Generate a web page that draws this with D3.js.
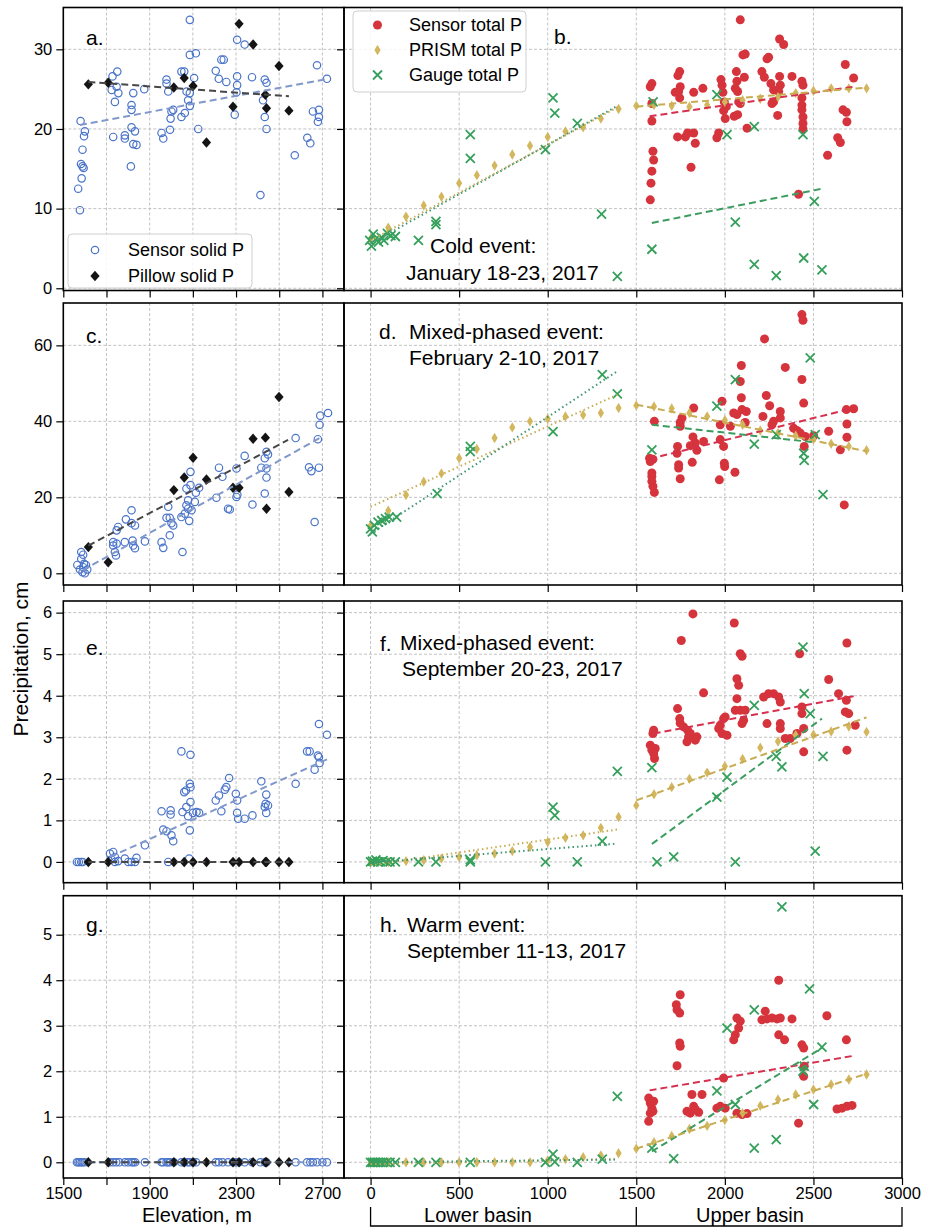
<!DOCTYPE html>
<html>
<head>
<meta charset="utf-8">
<script src="https://cdn.jsdelivr.net/npm/d3@7"></script>
<style>
  body { margin: 0; background: #fff; }
  svg { display: block; }
</style>
</head>
<body>
<svg id="chart" width="929" height="1228"></svg>
<script>
// ---------- axis limits and ticks ----------
const elevLimits = [1500, 2800];
const basinLimits = [-150, 3000];
const elevTicks = [1500, 1700, 1900, 2100, 2300, 2500, 2700];
const elevTickLabels = [1500, 1900, 2300, 2700];
const basinTicks = [0, 500, 1000, 1500, 2000, 2500, 3000];
const yLimits = [[-0.28, 35.25], [-3.08, 71.15], [-0.5, 6.28], [-0.345, 5.857]];
const yTicks = [[0, 10, 20, 30], [0, 20, 40, 60], [0, 1, 2, 3, 4, 5, 6], [0, 1, 2, 3, 4, 5]];

// ---------- snow pillow stations (elevation, m) ----------
const pillowElev = [1616, 1708, 2012, 2060, 2101, 2163, 2286, 2314, 2379, 2436, 2441, 2499, 2545];
const pillowJan = [25.6, 25.8, 25.2, 26.4, 25.4, 18.3, 22.8, 33.2, 30.6, 24.3, 22.6, 27.9, 22.3];
const pillowFeb = [6.9, 2.9, 21.9, 25.2, 30.4, 24.7, 22.5, 22.5, 35.4, 35.7, 17.0, 46.4, 21.4];
const pillowSep20 = [0, 0, 0, 0, 0, 0, 0, 0, 0, 0, 0, 0, 0];
const pillowSep11 = [0, 0, 0, 0, 0, 0, 0, 0, 0, 0, 0, 0, 0];

// ---------- sensor solid precipitation [elevation, cm] ----------
const sensorSolidJan = [[1577,9.8],[1569,12.5],[1585,13.8],[1589,15.3],[1594,15.1],[1589,17.4],[1582,15.6],[1580,21.0],[1600,19.7],[1596,19.1],[1731,19.0],[1728,26.6],[1750,27.2],[1724,24.9],[1739,23.4],[1755,24.5],[1747,25.3],[1824,24.5],[1816,23.0],[1816,22.4],[1816,20.2],[1832,19.7],[1824,18.1],[1839,18.0],[1785,19.2],[1785,18.8],[1813,15.3],[1875,25.0],[1955,19.5],[1963,18.8],[1994,19.9],[1978,26.2],[1986,24.7],[1978,25.7],[2001,22.2],[1997,21.3],[2009,22.4],[2047,21.5],[2063,22.0],[2047,27.2],[2060,27.2],[2071,24.7],[2078,23.6],[2086,22.9],[2086,24.5],[2086,33.7],[2086,29.3],[2114,29.5],[2106,26.4],[2125,20.0],[2206,27.3],[2220,26.3],[2232,28.7],[2243,28.7],[2255,25.9],[2305,26.6],[2305,25.5],[2302,24.6],[2294,21.8],[2305,31.2],[2340,30.6],[2374,26.5],[2413,11.7],[2433,26.2],[2441,25.8],[2425,23.6],[2433,21.5],[2441,20.0],[2572,16.7],[2630,18.9],[2644,18.2],[2656,22.2],[2684,22.4],[2679,20.9],[2684,21.5],[2675,28.0],[2721,26.3]];
const sensorSolidFeb = [[1565,2.2],[1577,1.0],[1589,0.3],[1600,0.0],[1592,1.6],[1605,2.2],[1611,1.0],[1583,5.6],[1592,4.9],[1583,3.8],[1596,2.5],[1731,8.2],[1731,7.3],[1739,5.6],[1744,4.7],[1747,7.8],[1754,12.2],[1747,11.3],[1790,14.2],[1785,8.2],[1816,16.6],[1821,8.6],[1824,7.3],[1832,6.6],[1832,12.6],[1816,13.2],[1878,8.4],[1955,8.2],[1963,6.7],[1986,17.5],[1993,10.0],[2001,13.2],[2009,12.6],[1993,14.6],[1978,14.6],[2052,5.6],[2047,14.8],[2063,15.7],[2070,17.9],[2078,17.0],[2083,13.8],[2089,26.7],[2070,22.3],[2078,19.2],[2089,23.2],[2094,16.6],[2109,18.8],[2114,21.2],[2129,22.5],[2209,19.9],[2221,27.8],[2237,25.4],[2263,17.0],[2271,16.8],[2302,27.6],[2302,20.1],[2306,20.7],[2340,30.9],[2376,18.1],[2417,27.8],[2433,30.3],[2441,32.0],[2441,27.6],[2441,25.2],[2433,21.0],[2448,31.3],[2576,35.6],[2638,27.9],[2649,26.9],[2664,13.5],[2684,27.8],[2679,35.3],[2687,39.1],[2690,41.5],[2726,42.2]];
const sensorSolidSep20 = [[1563,0],[1572,0],[1583,0],[1590,0],[1716,0.2],[1731,0.24],[1739,0.12],[1723,0.06],[1754,0.02],[1739,0],[1785,0.08],[1801,0],[1816,0],[1832,0],[1839,0.1],[1878,0.4],[1955,1.22],[1963,0.78],[1978,0.74],[1986,0],[1997,1.24],[1997,1.14],[2001,0.64],[2009,0.5],[2047,2.66],[2052,1.2],[2060,1.68],[2068,1.72],[2070,1.32],[2078,1.1],[2086,1.88],[2089,1.8],[2089,2.58],[2089,1.44],[2086,0.76],[2083,0.08],[2101,1.18],[2117,1.2],[2129,1.18],[2206,1.48],[2221,1.6],[2232,1.22],[2248,1.74],[2255,1.8],[2268,2.02],[2299,1.64],[2305,1.48],[2305,1.18],[2310,1.04],[2340,1.04],[2376,1.12],[2417,1.94],[2433,1.32],[2437,1.4],[2440,1.62],[2440,1.18],[2448,1.36],[2576,1.88],[2629,2.66],[2641,2.66],[2664,2.22],[2679,2.56],[2684,2.52],[2687,2.38],[2684,3.32],[2721,3.06]];
const sensorSolidSep11 = [[1563,0],[1570,0],[1577,0],[1585,0],[1590,0],[1600,0],[1716,0],[1731,0],[1745,0],[1760,0],[1785,0],[1800,0],[1816,0],[1824,0],[1833,0],[1878,0],[1955,0],[1962,0],[1978,0],[1985,0],[1995,0],[2012,0],[2047,0],[2060,0],[2075,0],[2086,0],[2101,0],[2115,0],[2206,0],[2220,0],[2238,0],[2263,0],[2286,0],[2300,0],[2314,0],[2340,0],[2374,0],[2413,0],[2433,0],[2441,0],[2576,0],[2629,0],[2644,0],[2656,0],[2675,0],[2700,0],[2721,0]];

// ---------- sensor total precipitation [elevation, cm] ----------
const sensorTotalJan = [[2087,33.7],[2102,29.3],[2115,29.4],[2309,31.3],[2332,30.6],[2238,28.8],[2247,29.0],[2680,28.1],[2727,26.4],[1745,27.2],[1735,26.7],[1588,25.7],[1579,25.3],[1748,25.3],[1739,24.7],[1720,24.6],[1745,23.9],[1824,24.6],[1876,25.1],[1978,26.2],[1984,25.5],[1989,24.6],[1997,23.4],[1993,22.3],[2002,21.3],[2008,22.8],[1965,19.5],[1955,18.9],[2065,27.2],[2068,26.0],[2059,25.1],[2072,24.7],[2110,26.5],[2087,23.2],[2078,23.4],[2072,21.8],[2053,21.6],[2125,20.1],[2209,27.2],[2223,26.5],[2260,25.7],[2275,24.9],[2309,26.6],[2313,25.5],[2304,24.7],[2275,23.4],[2266,23.2],[2298,21.7],[2379,26.6],[2435,26.0],[2441,25.5],[2435,23.9],[2435,23.0],[2435,22.4],[2441,21.5],[2441,20.7],[2441,20.0],[2416,11.8],[2667,22.4],[2686,22.1],[2689,20.9],[2637,18.9],[2652,18.3],[2580,16.7],[1588,23.2],[1588,21.0],[1594,17.2],[1598,16.1],[1588,14.7],[1583,13.2],[1579,11.1],[1733,19.0],[1777,19.0],[1790,19.5],[1833,18.2],[1824,19.5],[1809,15.2]];
const sensorTotalFeb = [[2435,68.1],[2441,66.6],[2224,61.7],[2341,54.2],[2093,54.7],[2087,50.5],[2435,51.0],[2093,46.2],[2234,46.8],[2253,44.1],[2445,44.8],[1984,45.3],[1824,43.5],[1758,40.9],[1748,39.7],[1748,38.7],[1602,40.0],[2097,43.1],[2121,42.6],[2068,41.8],[2115,39.7],[2215,41.3],[2275,40.0],[2313,42.6],[2313,40.9],[2266,39.1],[2388,38.2],[2407,37.6],[2426,36.9],[2454,36.0],[2448,33.4],[2501,36.2],[2586,37.4],[2689,39.3],[2689,35.8],[2686,43.1],[2727,43.3],[2652,32.5],[1974,35.2],[1993,33.4],[1997,29.0],[1999,28.1],[2057,26.6],[1969,24.6],[1820,35.9],[1805,33.6],[1833,34.3],[1880,34.7],[1842,32.4],[1816,29.2],[1733,33.4],[1730,31.6],[1739,28.6],[1739,27.7],[1748,24.9],[1575,30.3],[1579,29.4],[1594,30.0],[1588,26.4],[1588,25.5],[1588,24.2],[1594,22.9],[1602,21.3],[2674,18.0],[2050,42.2],[1974,39.1],[2031,38.7]];
const sensorTotalSep20 = [[1820,5.97],[1754,5.33],[2053,5.75],[2087,5.01],[2097,4.95],[2422,5.01],[2689,5.27],[2068,4.41],[2078,4.25],[2068,3.93],[1880,4.07],[1733,3.69],[1745,3.45],[1748,3.34],[1767,3.25],[1790,3.17],[1795,3.01],[1786,2.89],[1805,3.09],[1833,2.93],[1842,3.01],[1598,3.17],[1594,3.09],[1579,2.81],[1588,2.69],[1598,2.61],[1603,2.49],[1607,2.73],[1993,3.45],[1974,3.29],[1965,3.21],[1984,3.09],[2012,3.05],[2002,3.49],[2059,3.65],[2087,3.65],[2115,3.65],[2106,3.41],[2097,3.33],[2219,3.97],[2247,4.05],[2275,4.05],[2304,3.97],[2313,3.85],[2238,3.33],[2313,3.33],[2313,3.21],[2341,2.97],[2369,2.97],[2407,3.09],[2435,3.73],[2435,3.57],[2445,3.21],[2445,2.65],[2586,4.39],[2642,4.05],[2686,3.89],[2680,3.61],[2699,3.57],[2736,3.29],[2689,2.69]];
const sensorTotalSep11 = [[2304,4.0],[1748,3.68],[1726,3.46],[1730,3.35],[1745,3.28],[1745,2.62],[1748,2.55],[1730,2.12],[1570,1.41],[1579,1.3],[1588,1.19],[1579,1.08],[1570,0.9],[1598,1.34],[1594,1.12],[1814,1.49],[1871,1.49],[1786,1.12],[1805,1.08],[1833,1.16],[1824,1.23],[1852,1.1],[1993,1.85],[1974,1.23],[2002,1.19],[1955,1.19],[2068,3.17],[2087,3.1],[2078,2.95],[2059,2.8],[2050,2.69],[2068,1.08],[2097,1.05],[2125,1.07],[2228,3.32],[2238,3.15],[2266,3.17],[2294,3.15],[2313,3.17],[2209,3.13],[2379,3.15],[2304,2.8],[2337,2.69],[2435,2.58],[2445,2.51],[2448,2.11],[2445,1.89],[2416,0.86],[2576,3.22],[2686,2.69],[2633,1.17],[2661,1.19],[2689,1.23],[2718,1.25]];

// ---------- PRISM total precipitation on a 100 m elevation grid ----------
const prismElev = [0,100,200,300,400,500,600,700,800,900,1000,1100,1200,1300,1400,1500,1600,1700,1800,1900,2000,2100,2200,2300,2400,2500,2600,2700,2800];
const prismJan = [6.2,7.6,9.0,10.4,11.5,13.2,14.2,15.4,16.8,17.9,19.0,19.7,20.2,21.3,22.5,22.9,23.0,22.9,22.8,23.0,23.4,23.6,23.8,24.0,24.5,24.8,25.1,25.1,25.1];
const prismFeb = [12.5,16.5,20.6,24.1,26.3,30.3,32.7,35.6,38.4,40.0,40.7,41.3,41.7,42.2,43.5,44.2,43.9,43.4,42.2,41.3,40.3,39.1,37.6,36.9,36.2,35.3,34.1,33.4,32.4];
const prismSep20 = [0,0,0.02,0.04,0.08,0.12,0.16,0.2,0.26,0.36,0.48,0.58,0.64,0.82,1.08,1.36,1.63,1.8,2.0,2.15,2.3,2.48,2.75,2.9,3.05,3.06,3.14,3.26,3.13];
const prismSep11 = [0,0,0,0,0,0,0,0,0,0,0.04,0.07,0.11,0.15,0.2,0.3,0.44,0.58,0.73,0.8,0.93,1.08,1.24,1.38,1.49,1.6,1.71,1.82,1.93];

// ---------- rain gauge total precipitation [elevation, cm] ----------
const gaugeJan = [[-5,6.0],[5,5.3],[15,6.8],[30,6.2],[45,5.8],[60,6.4],[75,6.0],[95,6.9],[115,6.6],[140,6.5],[270,6.0],[369,8.4],[369,8.0],[563,19.3],[563,16.3],[1030,23.9],[1040,22.0],[987,17.4],[1167,20.7],[1304,9.3],[1393,1.5],[1595,23.4],[1955,24.3],[2012,19.3],[2166,20.3],[2441,19.3],[1588,4.9],[2059,8.3],[2166,3.0],[2290,1.6],[2445,3.8],[2548,2.3],[2505,10.9]];
const gaugeFeb = [[0,11.7],[21,12.6],[42,13.5],[63,13.9],[84,14.4],[105,14.8],[147,14.8],[10,10.9],[376,21.0],[563,33.4],[563,32.0],[1030,37.3],[1308,52.3],[1393,47.2],[1588,32.5],[1955,44.0],[2059,51.0],[2166,34.0],[2290,36.5],[2445,31.6],[2448,29.7],[2482,56.7],[2510,36.5],[2554,20.7]];
const gaugeSep20 = [[0,0],[10,0.02],[20,0],[30,0.05],[40,0],[55,0],[70,0.03],[90,0],[110,0],[140,0],[270,0],[369,0],[563,0],[563,0.05],[987,0],[1030,1.32],[1040,1.12],[1167,0],[1308,0.5],[1393,2.18],[1588,2.27],[1617,0],[1711,0.12],[1955,1.56],[2012,2.04],[2059,0],[2166,3.77],[2290,2.54],[2322,2.29],[2441,5.17],[2448,4.05],[2482,3.57],[2510,0.26],[2554,2.54]];
const gaugeSep11 = [[0,0],[10,0],[20,0],[30,0],[40,0],[55,0],[70,0],[90,0],[110,0],[140,0],[270,0],[369,0],[563,0],[987,0],[1030,0.18],[1040,0.01],[1167,0],[1308,0.07],[1393,1.45],[1588,0.31],[1711,0.08],[1955,1.57],[2012,2.95],[2166,3.35],[2290,0.5],[2322,5.61],[2166,0.31],[2441,2.0],[2448,2.11],[2478,3.81],[2548,2.53],[2501,1.27],[2059,1.27]];

// ---------- fitted trend lines [x1, y1, x2, y2] ----------
const trendSensorSolid = [[1577,20.5,2726,26.3],[1590,0.8,2700,36.0],[1716,0.12,2726,2.48],[1563,0,2726,0]];
const trendPillow = [[1616,25.9,2545,24.1],[1616,7.3,2541,35.1],[1616,0,2545,0],[1616,0,2545,0]];
const trendPrismLower = [[0,6.0,1400,22.8],[0,17.5,1393,47.0],[0,-0.08,1393,0.78],[0,-0.04,1393,0.07]];
const trendGaugeLower = [[0,5.6,1393,22.9],[0,10.4,1393,53.2],[0,-0.02,1393,0.44],[0,0,1393,0.06]];
const trendPrismUpper = [[1500,22.8,2800,25.2],[1500,44.4,2802,32.1],[1500,1.48,2800,3.48],[1500,0.3,2802,1.95]];
const trendGaugeUpper = [[1588,8.2,2548,12.5],[1588,39.1,2501,34.5],[1588,0.43,2548,3.45],[1588,0.24,2548,2.51]];
const trendSensorTotal = [[1575,21.6,2727,25.3],[1575,30.1,2727,43.5],[1598,3.09,2727,3.99],[1575,1.58,2727,2.34]];

// ---------- panel text ----------
const leftLetters = ["a.", "c.", "e.", "g."];
const rightLetters = ["b.", "d.", "f.", "h."];
const eventTitles = [
  ["Cold event:", "January 18-23, 2017"],
  ["Mixed-phased event:", "February 2-10, 2017"],
  ["Mixed-phased event:", "September 20-23, 2017"],
  ["Warm event:", "September 11-13, 2017"]
];

// ---------- layout ----------
const FONT = '"Liberation Sans", Arial, Helvetica, sans-serif';
const rowsY = [[7.5, 290.5], [303, 585], [601, 882.7], [895.7, 1178]];
const leftRange = [63.3, 344];
const rightRange = [344, 902];

const COL = {
  solid: "#4a74c9", solidFit: "#8198cb",
  pillow: "#141414", pillowFit: "#474747",
  sensor: "#d6343c", sensorFit: "#d6304f",
  prism: "#d3b75f", prismFit: "#c8ac52",
  gauge: "#35a05b", gaugeFit: "#3c9c5f", gaugeDot: "#3f9670",
  grid: "#b3b3b3"
};

const svg = d3.select("#chart").attr("font-family", FONT);
svg.append("rect").attr("width", 929).attr("height", 1228).attr("fill", "#fff");

const xL = d3.scaleLinear().domain(elevLimits).range(leftRange);
const xR = d3.scaleLinear().domain(basinLimits).range(rightRange);

const solidSets = [sensorSolidJan, sensorSolidFeb, sensorSolidSep20, sensorSolidSep11];
const pillowSets = [pillowJan, pillowFeb, pillowSep20, pillowSep11];
const totalSets = [sensorTotalJan, sensorTotalFeb, sensorTotalSep20, sensorTotalSep11];
const prismSets = [prismJan, prismFeb, prismSep20, prismSep11];
const gaugeSets = [gaugeJan, gaugeFeb, gaugeSep20, gaugeSep11];

const diamondPath = "M0,-5.2L4.6,0L0,5.2L-4.6,0Z";
const thinDiamondPath = "M0,-5.2L3.1,0L0,5.2L-3.1,0Z";
const crossPath = "M-4.5,-4.5L4.5,4.5M-4.5,4.5L4.5,-4.5";
const solidR = 3.7, totalR = 4.5;

const defs = svg.append("defs");

function grid(g, x, y, xt, yt) {
  const [y0, y1] = y.range();
  const [x0, x1] = x.range();
  g.selectAll("line.gv").data(xt).join("line").attr("class", "gv")
    .attr("x1", d => x(d)).attr("x2", d => x(d)).attr("y1", y1).attr("y2", y0)
    .attr("stroke", COL.grid).attr("stroke-width", 0.8).attr("stroke-dasharray", "3,2");
  g.selectAll("line.gh").data(yt).join("line").attr("class", "gh")
    .attr("x1", x0).attr("x2", x1).attr("y1", d => y(d)).attr("y2", d => y(d))
    .attr("stroke", COL.grid).attr("stroke-width", 0.8).attr("stroke-dasharray", "3,2");
}

function fitLine(g, x, y, t, color, dash, width) {
  g.append("line")
    .attr("x1", x(t[0])).attr("y1", y(t[1])).attr("x2", x(t[2])).attr("y2", y(t[3]))
    .attr("stroke", color).attr("stroke-width", width || 2)
    .attr("stroke-dasharray", dash).attr("fill", "none");
}

function styleAxis(sel) {
  sel.select(".domain").remove();
  sel.selectAll(".tick line").attr("stroke", "#000").attr("stroke-width", 1.2);
  sel.selectAll(".tick text").attr("font-size", 16.5).attr("font-family", FONT).attr("fill", "#000");
}

function frame(g, x, y) {
  const [x0, x1] = x.range();
  const [y0, y1] = y.range();
  g.append("rect").attr("x", x0).attr("y", y1).attr("width", x1 - x0).attr("height", y0 - y1)
    .attr("fill", "none").attr("stroke", "#000").attr("stroke-width", 1.6);
}

rowsY.forEach((ry, i) => {
  const y = d3.scaleLinear().domain(yLimits[i]).range([ry[1], ry[0]]);
  const lastRow = i === rowsY.length - 1;

  // ----- left panel: solid precipitation vs elevation -----
  const gl = svg.append("g");
  const clipL = "clipL" + i;
  defs.append("clipPath").attr("id", clipL).append("rect")
    .attr("x", leftRange[0]).attr("y", ry[0]).attr("width", leftRange[1] - leftRange[0]).attr("height", ry[1] - ry[0]);
  grid(gl, xL, y, elevTicks.slice(1), yTicks[i]);
  const pl = gl.append("g").attr("clip-path", `url(#${clipL})`);
  pl.selectAll("circle").data(solidSets[i]).join("circle")
    .attr("cx", d => xL(d[0])).attr("cy", d => y(d[1])).attr("r", solidR)
    .attr("fill", "none").attr("stroke", COL.solid).attr("stroke-width", 1.2);
  pl.selectAll("path.pillow").data(pillowElev.map((e, k) => [e, pillowSets[i][k]])).join("path")
    .attr("class", "pillow").attr("d", diamondPath)
    .attr("transform", d => `translate(${xL(d[0])},${y(d[1])})`).attr("fill", COL.pillow);
  fitLine(pl, xL, y, trendSensorSolid[i], COL.solidFit, "7,4", 2);
  fitLine(pl, xL, y, trendPillow[i], COL.pillowFit, "7,4", 2);
  frame(gl, xL, y);

  gl.append("g").attr("transform", `translate(0,${ry[1]})`)
    .call(d3.axisBottom(xL).tickValues(elevTicks).tickSize(7).tickPadding(2)
      .tickFormat(d => lastRow && elevTickLabels.includes(d) ? d : ""))
    .call(styleAxis);
  gl.append("g").attr("transform", `translate(${leftRange[0]},0)`)
    .call(d3.axisLeft(y).tickValues(yTicks[i]).tickSize(7).tickPadding(4).tickFormat(d3.format("d")))
    .call(styleAxis);

  gl.append("text").attr("x", 86).attr("y", [45, 343, 655, 932][i])
    .attr("font-size", 21).text(leftLetters[i]);

  // ----- right panel: total precipitation vs elevation -----
  const gr = svg.append("g");
  const clipR = "clipR" + i;
  defs.append("clipPath").attr("id", clipR).append("rect")
    .attr("x", rightRange[0]).attr("y", ry[0]).attr("width", rightRange[1] - rightRange[0]).attr("height", ry[1] - ry[0]);
  grid(gr, xR, y, basinTicks.slice(0, -1), yTicks[i]);
  const pr = gr.append("g").attr("clip-path", `url(#${clipR})`);
  pr.selectAll("circle").data(totalSets[i]).join("circle")
    .attr("cx", d => xR(d[0])).attr("cy", d => y(d[1])).attr("r", totalR)
    .attr("fill", COL.sensor);
  pr.selectAll("path.prism").data(prismElev.map((e, k) => [e, prismSets[i][k]])).join("path")
    .attr("class", "prism").attr("d", thinDiamondPath)
    .attr("transform", d => `translate(${xR(d[0])},${y(d[1])})`).attr("fill", COL.prism);
  pr.selectAll("path.gauge").data(gaugeSets[i]).join("path")
    .attr("class", "gauge").attr("d", crossPath)
    .attr("transform", d => `translate(${xR(d[0])},${y(d[1])})`)
    .attr("fill", "none").attr("stroke", COL.gauge).attr("stroke-width", 1.8);
  fitLine(pr, xR, y, trendPrismLower[i], COL.prismFit, "1.5,3", 2);
  fitLine(pr, xR, y, trendGaugeLower[i], COL.gaugeDot, "1.5,3", 2);
  fitLine(pr, xR, y, trendSensorTotal[i], COL.sensorFit, "7,4", 2);
  fitLine(pr, xR, y, trendGaugeUpper[i], COL.gaugeFit, "7,4", 2);
  fitLine(pr, xR, y, trendPrismUpper[i], COL.prismFit, "7,4", 2);
  frame(gr, xR, y);

  gr.append("g").attr("transform", `translate(0,${ry[1]})`)
    .call(d3.axisBottom(xR).tickValues(basinTicks).tickSize(7).tickPadding(2)
      .tickFormat(d => lastRow ? d : ""))
    .call(styleAxis);
  gr.append("g").attr("transform", `translate(${rightRange[0]},0)`)
    .call(d3.axisLeft(y).tickValues(yTicks[i]).tickSize(7).tickFormat(""))
    .call(styleAxis);
});

// ----- event annotations in the right panels -----
const ann = svg.append("g").attr("font-size", 21).attr("fill", "#000");
ann.append("text").attr("x", 554).attr("y", 44).text(rightLetters[0]);
ann.append("text").attr("x", 430).attr("y", 253).text(eventTitles[0][0]);
ann.append("text").attr("x", 406).attr("y", 280).text(eventTitles[0][1]);
ann.append("text").attr("x", 379).attr("y", 339).text(rightLetters[1]);
ann.append("text").attr("x", 409).attr("y", 339).text(eventTitles[1][0]);
ann.append("text").attr("x", 409).attr("y", 365).text(eventTitles[1][1]);
ann.append("text").attr("x", 380).attr("y", 651).text(rightLetters[2]);
ann.append("text").attr("x", 400).attr("y", 650).text(eventTitles[2][0]);
ann.append("text").attr("x", 402).attr("y", 676).text(eventTitles[2][1]);
ann.append("text").attr("x", 380).attr("y", 932).text(rightLetters[3]);
ann.append("text").attr("x", 407).attr("y", 932).text(eventTitles[3][0]);
ann.append("text").attr("x", 407).attr("y", 958).text(eventTitles[3][1]);

// ----- legends -----
function legendBox(x, y, w, h) {
  svg.append("rect").attr("x", x).attr("y", y).attr("width", w).attr("height", h).attr("rx", 4)
    .attr("fill", "#fff").attr("fill-opacity", 0.85).attr("stroke", "#cfcfcf").attr("stroke-width", 1);
}
legendBox(68, 234, 184, 54);
svg.append("circle").attr("cx", 95).attr("cy", 250).attr("r", solidR)
  .attr("fill", "none").attr("stroke", COL.solid).attr("stroke-width", 1.2);
svg.append("path").attr("d", diamondPath).attr("transform", "translate(95,276)").attr("fill", COL.pillow);
svg.append("text").attr("x", 128).attr("y", 256).attr("font-size", 18).text("Sensor solid P");
svg.append("text").attr("x", 128).attr("y", 282).attr("font-size", 18).text("Pillow solid P");

legendBox(353, 11, 173, 81);
svg.append("circle").attr("cx", 377.5).attr("cy", 25).attr("r", totalR).attr("fill", COL.sensor);
svg.append("path").attr("d", thinDiamondPath).attr("transform", "translate(377.5,50)").attr("fill", COL.prism);
svg.append("path").attr("d", crossPath).attr("transform", "translate(377.5,75)")
  .attr("fill", "none").attr("stroke", COL.gauge).attr("stroke-width", 1.8);
svg.append("text").attr("x", 409).attr("y", 31).attr("font-size", 18).text("Sensor total P");
svg.append("text").attr("x", 409).attr("y", 56).attr("font-size", 18).text("PRISM total P");
svg.append("text").attr("x", 409).attr("y", 81).attr("font-size", 18).text("Gauge total P");

// ----- axis titles -----
svg.append("text").attr("transform", "translate(28,659) rotate(-90)")
  .attr("text-anchor", "middle").attr("font-size", 21).text("Precipitation, cm");
svg.append("text").attr("x", 197).attr("y", 1222).attr("text-anchor", "middle")
  .attr("font-size", 20).text("Elevation, m");

// ----- basin bracket under the right column -----
const br = svg.append("g").attr("stroke", "#000").attr("stroke-width", 1.3).attr("fill", "none");
const bracketY = 1226, bracketTop = 1207;
br.append("path").attr("d",
  `M${xR(0)},${bracketTop}V${bracketY}H${xR(3000)}V${bracketTop}M${xR(1500)},${bracketTop}V${bracketY}`);
svg.append("text").attr("x", 478).attr("y", 1222).attr("text-anchor", "middle").attr("font-size", 20).text("Lower basin");
svg.append("text").attr("x", 750).attr("y", 1222).attr("text-anchor", "middle").attr("font-size", 20).text("Upper basin");
</script>
</body>
</html>
